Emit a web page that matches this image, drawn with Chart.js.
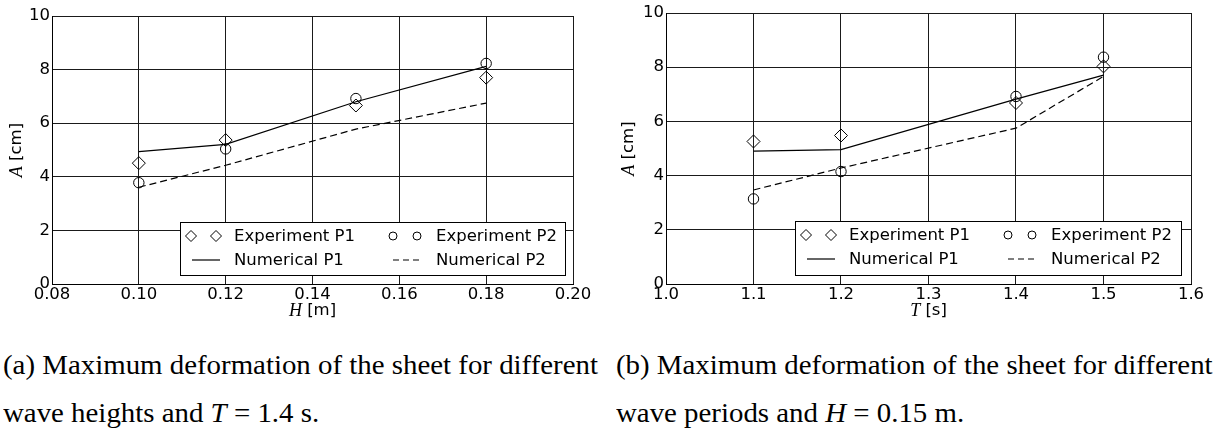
<!DOCTYPE html>
<html>
<head>
<meta charset="utf-8">
<script src="https://cdn.jsdelivr.net/npm/chart.js@4"></script>
<style>
  body { margin: 0; background: #fff; width: 1217px; height: 433px; overflow: hidden; position: relative; }
  .panel { position: absolute; top: 0; }
  .cap { position: absolute; font-family: "Liberation Serif", serif; font-size: 27px; line-height: 30px;
         white-space: nowrap; transform-origin: 0 0; color: #000; }
</style>
</head>
<body>
<div class="panel" style="left:0"><canvas id="chartH" width="600" height="330"></canvas></div>
<div class="panel" style="left:600px"><canvas id="chartT" width="617" height="330"></canvas></div>

<div class="cap" style="left:3px;top:350px">(a) Maximum deformation of the sheet for different</div>
<div class="cap" style="left:3px;top:398px">wave heights and <i>T</i> = 1.4 s.</div>
<div class="cap" style="left:616px;top:350px">(b) Maximum deformation of the sheet for different</div>
<div class="cap" style="left:616px;top:398px">wave periods and <i>H</i> = 0.15 m.</div>

<script>
// (a) wave height sweep, T = 1.4 s
const heightH = [0.10, 0.12, 0.15, 0.18];
const expP1_H = [4.51, 5.37, 6.66, 7.70];
const expP2_H = [3.78, 5.04, 6.92, 8.23];
const numP1_H = [4.94, 5.21, 6.80, 8.12];
const numP2_H = [3.61, 4.43, 5.78, 6.75];

// (b) wave period sweep, H = 0.15 m
const periodT = [1.1, 1.2, 1.4, 1.5];
const expP1_T = [5.26, 5.48, 6.68, 8.03];
const expP2_T = [3.14, 4.15, 6.92, 8.37];
const numP1_T = [4.90, 4.96, 6.82, 7.71];
const numP2_T = [3.47, 4.28, 5.75, 7.66];

const ticksH = [0.08, 0.10, 0.12, 0.14, 0.16, 0.18, 0.20];
const ticksT = [1.0, 1.1, 1.2, 1.3, 1.4, 1.5, 1.6];
const ticksA = [0, 2, 4, 6, 8, 10];
const seriesLabels = ['Experiment P1', 'Experiment P2', 'Numerical P1', 'Numerical P2'];

const sans = '"DejaVu Sans", sans-serif';
const gridColor = '#1a1a1a';

function pts(xs, ys) {
  return xs.map((x, i) => ({ x: x, y: ys[i] }));
}

function diamond(ctx, x, y, r) {
  ctx.beginPath();
  ctx.moveTo(x, y - r);
  ctx.lineTo(x + r, y);
  ctx.lineTo(x, y + r);
  ctx.lineTo(x - r, y);
  ctx.closePath();
  ctx.stroke();
}

function circle(ctx, x, y, r) {
  ctx.beginPath();
  ctx.arc(x, y, r, 0, Math.PI * 2);
  ctx.stroke();
}

// axis titles (italic symbol + unit) and the boxed two-column legend
const paperDecor = {
  id: 'paperDecor',
  afterDraw(chart, args, opts) {
    const ctx = chart.ctx;
    const a = chart.chartArea;
    ctx.save();
    ctx.fillStyle = '#000';
    ctx.textBaseline = 'middle';

    const symFont = 'italic 18px "Liberation Serif", serif';
    const unitFont = '16.5px ' + sans;

    function mixed(sym, unit, cx, cy) {
      ctx.font = symFont;
      const w1 = ctx.measureText(sym).width;
      ctx.font = unitFont;
      const w2 = ctx.measureText(unit).width;
      const x0 = cx - (w1 + w2) / 2;
      ctx.textAlign = 'left';
      ctx.font = symFont;
      ctx.fillText(sym, x0, cy);
      ctx.font = unitFont;
      ctx.fillText(unit, x0 + w1, cy);
    }

    // y title, rotated
    ctx.save();
    ctx.translate(opts.yTitleX, (a.top + a.bottom) / 2);
    ctx.rotate(-Math.PI / 2);
    mixed('A', ' [cm]', 0, 0);
    ctx.restore();

    // x title
    mixed(opts.xSym, opts.xUnit, (a.left + a.right) / 2, opts.xTitleY);

    // legend
    const L = opts.legend;
    ctx.fillStyle = '#fff';
    ctx.fillRect(L.x, L.y, L.w, L.h);
    ctx.strokeStyle = '#000';
    ctx.lineWidth = 1;
    ctx.strokeRect(L.x + 0.5, L.y + 0.5, L.w, L.h);

    const r1 = L.y + 14, r2 = L.y + 38;
    diamond(ctx, L.x + 11, r1, 5.5);
    diamond(ctx, L.x + 36, r1, 5.5);
    circle(ctx, L.x + 213, r1, 4);
    circle(ctx, L.x + 237, r1, 4);

    ctx.lineWidth = 1.2;
    ctx.beginPath();
    ctx.moveTo(L.x + 12, r2);
    ctx.lineTo(L.x + 40, r2);
    ctx.stroke();
    ctx.setLineDash([6, 4]);
    ctx.beginPath();
    ctx.moveTo(L.x + 213, r2);
    ctx.lineTo(L.x + 241, r2);
    ctx.stroke();
    ctx.setLineDash([]);

    ctx.fillStyle = '#000';
    ctx.font = '16.5px ' + sans;
    ctx.textAlign = 'left';
    ctx.fillText(seriesLabels[0], L.x + 54, r1 + 1);
    ctx.fillText(seriesLabels[1], L.x + 256, r1 + 1);
    ctx.fillText(seriesLabels[2], L.x + 54, r2 + 1);
    ctx.fillText(seriesLabels[3], L.x + 256, r2 + 1);
    ctx.restore();
  }
};

function buildChart(canvasId, xs, e1, e2, n1, n2, xTicks, xDigits, opts) {
  const ctx = document.getElementById(canvasId).getContext('2d');
  return new Chart(ctx, {
    type: 'scatter',
    data: {
      datasets: [
        {
          label: seriesLabels[2],
          data: pts(xs, n1),
          showLine: true,
          borderColor: '#000',
          borderWidth: 1.2,
          pointRadius: 0,
          fill: false
        },
        {
          label: seriesLabels[3],
          data: pts(xs, n2),
          showLine: true,
          borderColor: '#000',
          borderWidth: 1.2,
          borderDash: [7, 4],
          pointRadius: 0,
          fill: false
        },
        {
          label: seriesLabels[0],
          data: pts(xs, e1),
          pointStyle: 'rectRot',
          pointRadius: 6.5,
          pointBorderWidth: 1,
          pointBorderColor: '#000',
          pointBackgroundColor: 'rgba(0,0,0,0)'
        },
        {
          label: seriesLabels[1],
          data: pts(xs, e2),
          pointStyle: 'circle',
          pointRadius: 5.2,
          pointBorderWidth: 1,
          pointBorderColor: '#000',
          pointBackgroundColor: 'rgba(0,0,0,0)'
        }
      ]
    },
    options: {
      responsive: false,
      animation: false,
      devicePixelRatio: 1,
      layout: { padding: opts.padding },
      plugins: {
        legend: { display: false },
        tooltip: { enabled: false },
        paperDecor: opts.decor
      },
      scales: {
        x: {
          type: 'linear',
          min: xTicks[0],
          max: xTicks[xTicks.length - 1],
          afterBuildTicks: s => { s.ticks = xTicks.map(v => ({ value: v })); },
          afterFit: s => { s.height = opts.xHeight; },
          ticks: {
            autoSkip: false,
            maxRotation: 0,
            padding: 1,
            color: '#000',
            font: { family: sans, size: 16.5 },
            callback: v => Number(v).toFixed(xDigits)
          },
          grid: { color: gridColor, lineWidth: 1, drawTicks: false },
          border: { color: '#000', width: 1 }
        },
        y: {
          min: ticksA[0],
          max: ticksA[ticksA.length - 1],
          afterBuildTicks: s => { s.ticks = ticksA.map(v => ({ value: v })); },
          afterFit: s => { s.width = opts.yWidth; },
          ticks: {
            padding: 2,
            color: '#000',
            font: { family: sans, size: 16.5 },
            callback: v => String(v)
          },
          grid: { color: gridColor, lineWidth: 1, drawTicks: false },
          border: { color: '#000', width: 1 }
        }
      }
    },
    plugins: [paperDecor]
  });
}

buildChart('chartH', heightH, expP1_H, expP2_H, numP1_H, numP2_H, ticksH, 2, {
  padding: { left: 0, top: 16, right: 27, bottom: 0 },
  yWidth: 52,
  xHeight: 46,
  decor: { yTitleX: 17, xTitleY: 311, xSym: 'H', xUnit: ' [m]',
           legend: { x: 180, y: 222, w: 385, h: 53 } }
});

buildChart('chartT', periodT, expP1_T, expP2_T, numP1_T, numP2_T, ticksT, 1, {
  padding: { left: 0, top: 13, right: 26, bottom: 0 },
  yWidth: 66,
  xHeight: 46,
  decor: { yTitleX: 29, xTitleY: 311, xSym: 'T', xUnit: ' [s]',
           legend: { x: 195, y: 221, w: 386, h: 54 } }
});

// stretch captions to the width of the typeset original
const caps = document.querySelectorAll('.cap');
const refWidth = caps[0].getBoundingClientRect().width;
const stretch = 595 / refWidth;
caps.forEach(c => { c.style.transform = 'scaleX(' + stretch + ')'; });
</script>
</body>
</html>
